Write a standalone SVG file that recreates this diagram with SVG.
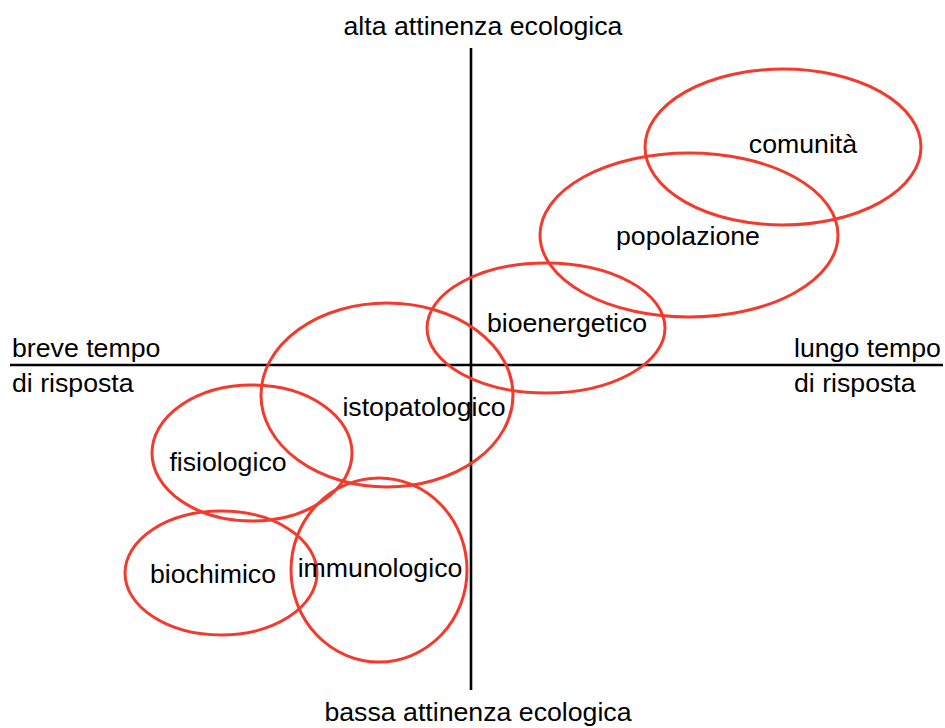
<svg xmlns="http://www.w3.org/2000/svg" width="945" height="728" viewBox="0 0 945 728">
<style>
text{font-family:"Liberation Sans",Arial,sans-serif;font-size:26.7px;fill:#000}
.c{text-anchor:middle}
.e{fill:none;stroke:#f33b2d;stroke-width:3}
.ax{stroke:#000;stroke-width:2.6;fill:none}
</style>
<rect width="945" height="728" fill="#fff"/>
<g id="axes">
<line class="ax" x1="471" y1="48" x2="471" y2="690"/>
<line class="ax" x1="10" y1="365" x2="943" y2="365"/>
<text class="c" x="483" y="35">alta attinenza ecologica</text>
<text class="c" x="478" y="721">bassa attinenza ecologica</text>
<text x="12" y="357">breve tempo</text>
<text x="12" y="392">di risposta</text>
<text x="794" y="357">lungo tempo</text>
<text x="794" y="392">di risposta</text>
</g>
<g id="comunita"><ellipse class="e" cx="783" cy="147" rx="138" ry="78"/><text class="c" x="803" y="153">comunità</text></g>
<g id="popolazione"><ellipse class="e" cx="689" cy="235" rx="149" ry="82"/><text class="c" x="688" y="245">popolazione</text></g>
<g id="bioenergetico"><ellipse class="e" cx="546" cy="328" rx="119" ry="65"/><text class="c" x="567" y="332">bioenergetico</text></g>
<g id="istopatologico"><ellipse class="e" cx="387" cy="395" rx="126" ry="92"/><text class="c" x="424" y="416">istopatologico</text></g>
<g id="fisiologico"><ellipse class="e" cx="252" cy="453" rx="100" ry="68"/><text class="c" x="228" y="471">fisiologico</text></g>
<g id="biochimico"><ellipse class="e" cx="221" cy="573" rx="96" ry="62"/><text class="c" x="213" y="583">biochimico</text></g>
<g id="immunologico"><ellipse class="e" cx="379" cy="570" rx="88" ry="92"/><text class="c" x="380" y="577">immunologico</text></g>
<g id="connectors"/>
</svg>
